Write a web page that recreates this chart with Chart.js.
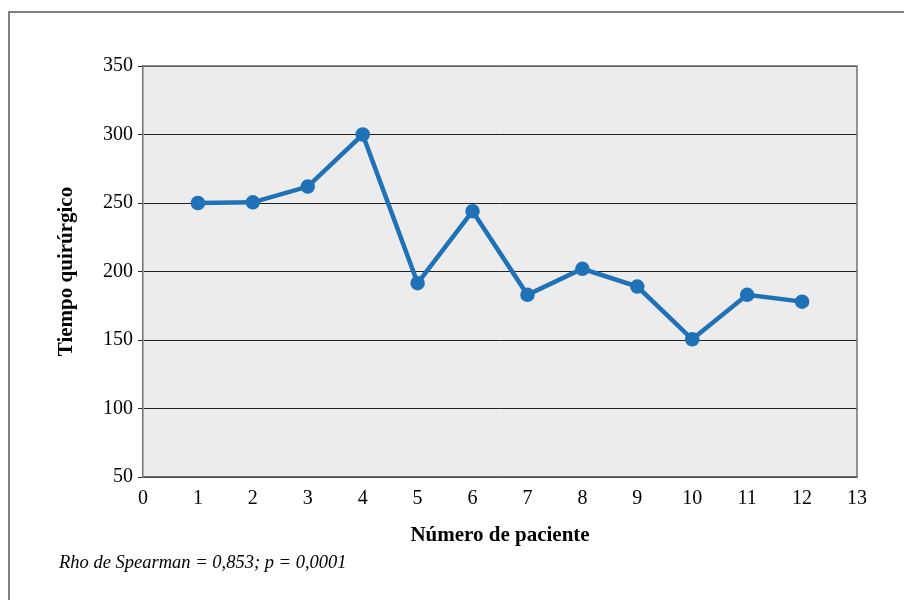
<!DOCTYPE html>
<html>
<head>
<meta charset="utf-8">
<script src="https://cdn.jsdelivr.net/npm/chart.js@4"></script>
<style>
  body { margin: 0; width: 904px; height: 600px; overflow: hidden; background: #fff; position: relative; }
  #frame { position: absolute; left: 8px; top: 11px; width: 1000px; height: 1000px; border: 2px solid #808080; }
  #wrap { position: absolute; left: 0; top: 0; width: 904px; height: 600px; }
  #note { position: absolute; left: 59px; top: 552px; font-family: "Liberation Serif", serif; font-style: italic; font-size: 18.5px; color: #000; }
</style>
</head>
<body>
<div id="frame"></div>
<div id="wrap"><canvas id="chart" width="904" height="600"></canvas></div>
<div id="note">Rho de Spearman = 0,853; p = 0,0001</div>
<script>
// patient number vs surgical time
const patients = [1, 2, 3, 4, 5, 6, 7, 8, 9, 10, 11, 12];
const surgeryTime = [250, 250.5, 262, 300, 191.5, 244, 183, 202, 189, 150.5, 183, 178];
const yTicks = [50, 100, 150, 200, 250, 300, 350];
const xTicks = [0, 1, 2, 3, 4, 5, 6, 7, 8, 9, 10, 11, 12, 13];

const serif = "'Liberation Serif', 'Times New Roman', serif";

// grey plot background + box around plot area
const plotBox = {
    id: "plotBox",
    beforeDraw(chart) {
        const a = chart.chartArea, c = chart.ctx;
        c.save();
        c.fillStyle = "#ececec";
        c.fillRect(a.left, a.top, a.right - a.left, a.bottom - a.top);
        c.restore();
    },
    afterDatasetsDraw(chart) {
        const a = chart.chartArea, c = chart.ctx;
        c.save();
        c.strokeStyle = "#707070";
        c.lineWidth = 1.5;
        c.beginPath();
        c.moveTo(a.left, a.top);
        c.lineTo(a.right, a.top);
        c.lineTo(a.right, a.bottom);
        c.stroke();
        c.restore();
    }
};

const ctx = document.getElementById("chart").getContext("2d");
new Chart(ctx, {
    type: "line",
    data: {
        datasets: [{
            data: patients.map((p, i) => ({ x: p, y: surgeryTime[i] })),
            borderColor: "#1f71b8",
            backgroundColor: "#1f71b8",
            borderWidth: 4.5,
            pointRadius: 5,
            pointHoverRadius: 5,
            tension: 0,
            fill: false
        }]
    },
    options: {
        responsive: false,
        animation: false,
        layout: { padding: { left: 0, top: 66, right: 47, bottom: 0 } },
        plugins: { legend: { display: false }, tooltip: { enabled: false } },
        scales: {
            x: {
                type: "linear",
                min: 0,
                max: 13,
                afterBuildTicks: s => { s.ticks = xTicks.map(v => ({ value: v })); },
                afterFit: s => { s.height = 123; },
                grid: { display: false, drawTicks: false },
                border: { display: true, color: "#707070", width: 1.5 },
                ticks: { color: "#000", padding: 10, font: { family: serif, size: 20 } },
                title: {
                    display: true,
                    text: "Número de paciente",
                    color: "#000",
                    padding: { top: 0, bottom: 52 },
                    font: { family: serif, size: 21, weight: "bold" }
                }
            },
            y: {
                min: 50,
                max: 350,
                afterBuildTicks: s => { s.ticks = yTicks.map(v => ({ value: v })); },
                afterFit: s => { s.width = 143; },
                grid: { color: "#222", lineWidth: 1, tickLength: 5, drawTicks: true },
                border: { display: true, color: "#707070", width: 1.5 },
                ticks: { color: "#000", padding: 5, font: { family: serif, size: 20 } },
                title: {
                    display: true,
                    text: "Tiempo quirúrgico",
                    color: "#000",
                    padding: { top: 54, bottom: 0 },
                    font: { family: serif, size: 21, weight: "bold" }
                }
            }
        }
    },
    plugins: [plotBox]
});
</script>
</body>
</html>
